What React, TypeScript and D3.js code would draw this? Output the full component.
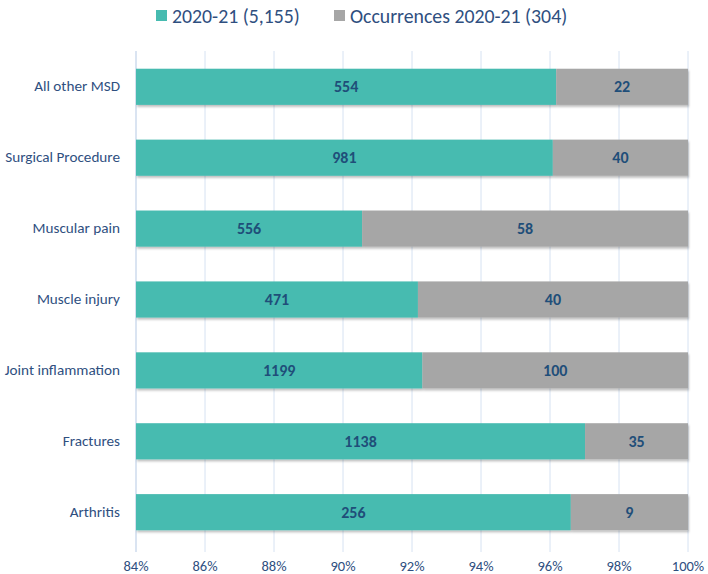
import * as d3 from "d3";

const categories = [
  "All other MSD",
  "Surgical Procedure",
  "Muscular pain",
  "Muscle injury",
  "Joint inflammation",
  "Fractures",
  "Arthritis",
];
const cases2020 = [554, 981, 556, 471, 1199, 1138, 256];
const occurrences2020 = [22, 40, 58, 40, 100, 35, 9];
const seriesNames = ["2020-21 (5,155)", "Occurrences 2020-21 (304)"];
const xTicks = [0.84, 0.86, 0.88, 0.9, 0.92, 0.94, 0.96, 0.98, 1.0];

const teal = "#47bbb0";
const grey = "#a6a6a6";
const textBlue = "#2f4f7f";
const labelBlue = "#1f4e79";
const fontFamily = "Calibri, Carlito, Lato, sans-serif";

export default function App() {
  const width = 708;
  const height = 574;
  const left = 136;
  const right = 688;
  const top = 51;
  const bottom = 548;

  const x = d3.scaleLinear().domain([0.84, 1]).range([left, right]);
  const y = d3
    .scaleBand<string>()
    .domain(categories)
    .range([top, bottom])
    .paddingInner(0.49)
    .paddingOuter(0.25);

  const rows = categories.map((c, i) => {
    const total = cases2020[i] + occurrences2020[i];
    return { c, a: cases2020[i], b: occurrences2020[i], share: cases2020[i] / total };
  });

  return (
    <svg
      width={width}
      height={height}
      style={{ position: "absolute", left: 0, top: 0, fontFamily }}
    >
      <defs>
        <filter id="shadow" x="-5%" y="-20%" width="110%" height="160%">
          <feDropShadow dx="1" dy="2" stdDeviation="1.2" floodColor="#000" floodOpacity="0.25" />
        </filter>
      </defs>
      <rect width={width} height={height} fill="#fff" />

      {/* legend */}
      <rect x={156} y={10} width={11} height={11} fill={teal} />
      <text x={172} y={23} fontSize={19.8} fill={textBlue}>{seriesNames[0]}</text>
      <rect x={334} y={10} width={11} height={11} fill={grey} />
      <text x={350} y={23} fontSize={19.8} fill={textBlue}>{seriesNames[1]}</text>

      {/* gridlines */}
      {xTicks.map((t) => (
        <line key={t} x1={x(t)} x2={x(t)} y1={top} y2={bottom + 4} stroke="#d6e2f2" strokeWidth={1} />
      ))}
      <line x1={left} x2={left} y1={top} y2={bottom + 4} stroke="#c9d7ea" />

      {xTicks.map((t) => (
        <text key={"l" + t} x={x(t)} y={571} fontSize={14.5} fill={textBlue} textAnchor="middle">
          {d3.format(".0%")(t)}
        </text>
      ))}

      {rows.map((r) => {
        const y0 = y(r.c)!;
        const bh = y.bandwidth();
        const xs = x(r.share);
        return (
          <g key={r.c}>
            <g filter="url(#shadow)">
              <rect x={left} y={y0} width={xs - left} height={bh} fill={teal} />
              <rect x={xs} y={y0} width={right - xs} height={bh} fill={grey} />
            </g>
            <text x={(left + xs) / 2} y={y0 + bh / 2 + 5.5} fontSize={16} fontWeight="bold" fill={labelBlue} textAnchor="middle">
              {r.a}
            </text>
            <text x={(xs + right) / 2} y={y0 + bh / 2 + 5.5} fontSize={16} fontWeight="bold" fill={labelBlue} textAnchor="middle">
              {r.b}
            </text>
            <text x={120} y={y0 + bh / 2 + 4.5} fontSize={15.2} fill={textBlue} textAnchor="end">
              {r.c}
            </text>
          </g>
        );
      })}
    </svg>
  );
}
